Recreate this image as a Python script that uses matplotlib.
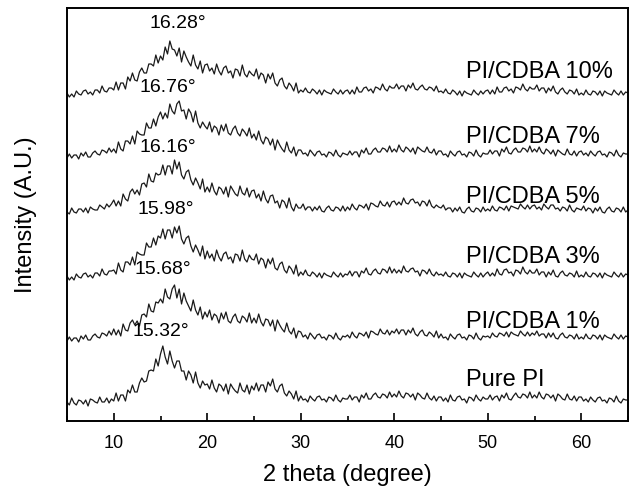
import numpy as np
import matplotlib
matplotlib.use("Agg")
import matplotlib.pyplot as plt
from matplotlib.ticker import MultipleLocator

plt.rcParams["font.family"] = ["Liberation Sans", "DejaVu Sans"]

# intensity above each trace's own baseline,
# one value every 0.25 degree from 5 to 65 (one row = 5 degrees)
i_10 = [2, -2, 1, -2, 4, 1, 0, 4, 5, 1, 3, 0, 5, 5, 2, 9, 4, 3, 7, 7,
        5, 13, 5, 12, 12, 6, 18, 14, 22, 15, 14, 23, 27, 22, 22, 31, 31, 29, 40, 32,
        39, 35, 48, 41, 54, 46, 45, 39, 47, 33, 44, 38, 33, 29, 40, 30, 26, 34, 22, 30,
        31, 24, 27, 21, 31, 24, 20, 27, 29, 22, 24, 17, 26, 25, 19, 30, 21, 18, 24, 21,
        19, 26, 16, 22, 20, 12, 21, 16, 22, 12, 9, 15, 17, 9, 6, 12, 9, 4, 12, 2,
        5, 3, 7, 3, 2, 6, 4, 1, 5, 0, 5, 3, 2, 1, 6, 3, 1, 5, 1, 4,
        5, 1, 5, 1, 8, 3, 3, 7, 8, 4, 6, 2, 8, 7, 5, 11, 6, 4, 9, 7,
        7, 11, 6, 9, 9, 4, 10, 7, 12, 6, 5, 8, 10, 6, 5, 8, 7, 4, 9, 3,
        4, 2, 6, 2, 1, 5, 3, 0, 4, -1, 4, 2, 1, 0, 5, 2, 0, 4, 1, 4,
        5, 1, 5, 1, 8, 3, 3, 7, 8, 4, 6, 2, 8, 7, 5, 11, 6, 4, 8, 6,
        6, 10, 4, 7, 7, 2, 7, 4, 9, 3, 1, 5, 7, 3, 1, 5, 4, 1, 6, 0,
        2, 0, 5, 1, 0, 4, 3, 0, 4, -1, 4, 2, 1, 0, 5, 2, 0, 4, 0, 3,
        2]
i_7 = [-1, 3, -1, 2, 2, -2, 4, 1, 5, 0, 0, 4, 6, 3, 2, 7, 6, 4, 9, 5,
       8, 4, 15, 8, 6, 16, 16, 13, 21, 13, 26, 23, 22, 22, 34, 29, 29, 38, 31, 40,
       45, 38, 44, 39, 53, 46, 43, 53, 56, 46, 47, 38, 48, 44, 35, 46, 34, 29, 35, 31,
       28, 35, 25, 31, 29, 22, 32, 26, 33, 24, 22, 28, 31, 24, 21, 28, 25, 21, 29, 19,
       23, 17, 26, 17, 13, 20, 18, 12, 18, 7, 17, 12, 8, 5, 15, 7, 4, 10, 1, 7,
       7, 3, 4, 1, 7, 4, 1, 5, 6, 2, 3, 0, 5, 4, 1, 7, 2, 0, 4, 3,
       2, 6, 2, 5, 5, 0, 7, 4, 9, 3, 3, 7, 9, 5, 5, 9, 8, 5, 11, 5,
       8, 5, 12, 7, 5, 10, 8, 5, 9, 3, 10, 8, 6, 5, 10, 5, 4, 8, 2, 6,
       6, 2, 3, 0, 6, 3, 1, 5, 6, 2, 3, 0, 5, 4, 1, 7, 2, 0, 4, 3,
       3, 7, 3, 6, 6, 1, 8, 5, 10, 4, 3, 7, 9, 5, 5, 9, 8, 5, 11, 5,
       8, 5, 10, 5, 3, 8, 6, 3, 7, 1, 7, 5, 3, 2, 8, 3, 2, 6, 1, 5,
       6, 2, 4, 1, 6, 3, 1, 5, 6, 2, 3, 0, 5, 4, 1, 7, 2, 0, 4, 3,
       3]
i_5 = [0, -2, 4, 0, -1, 3, 3, 0, 4, -1, 5, 3, 2, 2, 7, 5, 3, 8, 5, 8,
       12, 6, 11, 6, 18, 13, 11, 20, 23, 18, 22, 17, 28, 29, 25, 38, 31, 30, 39, 37,
       38, 47, 37, 46, 46, 38, 52, 43, 50, 37, 33, 40, 42, 32, 27, 34, 29, 23, 33, 20,
       25, 20, 29, 21, 17, 25, 23, 18, 25, 15, 26, 22, 18, 16, 26, 19, 17, 24, 15, 21,
       22, 14, 18, 11, 21, 13, 9, 16, 17, 9, 11, 4, 12, 10, 4, 14, 5, 1, 8, 4,
       4, 8, 2, 5, 5, 1, 5, 2, 6, 1, 0, 4, 6, 2, 1, 5, 4, 1, 6, 1,
       5, 2, 8, 4, 2, 7, 6, 4, 8, 2, 9, 8, 6, 5, 11, 7, 6, 10, 5, 10,
       11, 7, 10, 7, 14, 9, 8, 12, 13, 9, 10, 6, 11, 10, 6, 12, 6, 4, 7, 5,
       4, 7, 2, 4, 4, 0, 4, 1, 5, 0, -1, 3, 5, 1, 0, 4, 3, 0, 5, 1,
       3, 1, 6, 2, 1, 5, 4, 2, 6, 1, 6, 5, 4, 3, 8, 5, 3, 7, 3, 6,
       7, 3, 5, 2, 8, 5, 3, 7, 7, 3, 4, 1, 5, 4, 1, 7, 2, 0, 4, 3,
       2, 6, 1, 4, 3, -1, 4, 1, 5, 0, -1, 3, 5, 1, 0, 4, 3, 0, 5, 0,
       2]
i_3 = [2, -2, 1, -2, 4, 1, 0, 4, 5, 1, 3, 0, 5, 5, 2, 9, 4, 3, 7, 7,
       8, 4, 15, 8, 6, 16, 16, 13, 21, 13, 26, 24, 23, 23, 35, 31, 31, 40, 33, 42,
       40, 49, 39, 48, 48, 40, 51, 45, 52, 39, 34, 40, 42, 32, 26, 33, 28, 22, 32, 19,
       27, 20, 24, 17, 28, 21, 17, 24, 26, 19, 21, 15, 24, 23, 17, 28, 19, 16, 23, 19,
       18, 24, 14, 20, 18, 10, 19, 14, 20, 10, 8, 14, 16, 8, 5, 12, 9, 4, 13, 2,
       6, 3, 8, 3, 2, 6, 4, 1, 5, 0, 5, 3, 2, 1, 6, 3, 1, 5, 1, 4,
       3, 7, 2, 6, 6, 1, 7, 5, 10, 4, 3, 7, 9, 5, 4, 9, 8, 5, 11, 5,
       9, 5, 8, 5, 12, 7, 6, 9, 10, 6, 7, 2, 8, 7, 4, 9, 4, 2, 6, 3,
       4, 2, 6, 2, 1, 5, 4, 1, 5, 0, 5, 3, 2, 1, 6, 3, 1, 5, 1, 4,
       6, 2, 5, 2, 9, 4, 3, 8, 9, 5, 6, 2, 8, 7, 4, 11, 6, 4, 8, 5,
       5, 9, 3, 6, 6, 1, 6, 3, 8, 2, 1, 5, 7, 3, 2, 5, 4, 1, 7, 1,
       3, 1, 6, 2, 1, 5, 4, 1, 5, 0, 5, 3, 2, 1, 6, 3, 1, 5, 1, 4,
       3]
i_1 = [-1, 3, -1, 2, 2, -2, 4, 1, 5, 0, 0, 4, 6, 3, 2, 7, 6, 4, 9, 5,
       11, 5, 10, 4, 16, 10, 9, 17, 20, 15, 19, 14, 25, 26, 23, 36, 29, 28, 38, 37,
       41, 37, 51, 43, 41, 51, 55, 42, 51, 36, 47, 39, 34, 29, 40, 30, 25, 33, 21, 28,
       23, 30, 20, 26, 24, 17, 27, 21, 28, 19, 17, 23, 26, 19, 17, 24, 22, 18, 27, 17,
       22, 17, 26, 18, 14, 21, 20, 14, 20, 9, 20, 15, 11, 8, 17, 9, 6, 12, 2, 9,
       8, 3, 5, 1, 7, 4, 1, 5, 6, 2, 3, 0, 5, 4, 1, 7, 2, 0, 4, 3,
       5, 2, 8, 4, 2, 7, 6, 4, 8, 2, 9, 8, 6, 5, 11, 7, 6, 10, 5, 9,
       7, 11, 6, 10, 10, 5, 10, 7, 12, 6, 4, 8, 10, 5, 4, 8, 6, 3, 9, 2,
       6, 2, 3, 0, 6, 3, 1, 5, 6, 2, 3, 0, 5, 4, 1, 7, 2, 0, 4, 3,
       4, 2, 7, 4, 3, 7, 6, 4, 8, 3, 8, 6, 5, 4, 9, 6, 4, 8, 4, 7,
       5, 9, 4, 6, 6, 2, 7, 3, 7, 2, 1, 5, 7, 3, 2, 5, 4, 1, 6, 1,
       3, 1, 6, 2, 1, 5, 4, 1, 5, 0, 5, 3, 2, 1, 6, 3, 1, 5, 1, 4,
       3]
i_pure = [1, -2, 5, 0, -2, 3, 2, -1, 3, -3, 4, 3, 1, 0, 6, 1, 1, 5, 0, 4,
          2, 10, 2, 8, 8, 2, 13, 10, 18, 11, 11, 20, 25, 21, 22, 32, 33, 32, 44, 37,
          49, 57, 46, 39, 52, 42, 35, 42, 42, 32, 32, 23, 32, 28, 20, 31, 20, 15, 22, 18,
          19, 14, 23, 15, 11, 19, 17, 12, 19, 9, 19, 15, 12, 10, 20, 13, 11, 18, 9, 17,
          13, 20, 12, 18, 18, 11, 21, 17, 24, 14, 11, 17, 19, 10, 7, 12, 9, 4, 12, 2,
          7, 3, 4, 1, 7, 4, 2, 6, 7, 3, 4, 1, 6, 5, 2, 8, 3, 1, 5, 4,
          4, 8, 3, 6, 6, 1, 8, 5, 10, 4, 4, 8, 10, 6, 5, 9, 8, 5, 11, 6,
          9, 6, 12, 7, 5, 10, 9, 6, 9, 3, 10, 8, 5, 4, 10, 5, 3, 7, 2, 6,
          6, 2, 5, 1, 8, 3, 2, 6, 7, 3, 4, 0, 6, 5, 2, 8, 4, 2, 6, 4,
          4, 8, 3, 6, 7, 2, 8, 5, 10, 4, 3, 7, 10, 6, 5, 9, 8, 5, 11, 5,
          8, 5, 11, 6, 4, 9, 8, 5, 8, 2, 9, 7, 4, 3, 9, 4, 3, 7, 2, 6,
          6, 2, 4, 1, 6, 3, 1, 5, 6, 2, 3, 0, 5, 4, 1, 7, 2, 0, 4, 3,
          3]

series = [i_10, i_7, i_5, i_3, i_1, i_pure]
names = ["PI/CDBA 10%", "PI/CDBA 7%", "PI/CDBA 5%",
         "PI/CDBA 3%", "PI/CDBA 1%", "Pure PI"]
offsets = [326, 264, 209, 143, 81, 18]
peak_pos = ["16.28°", "16.76°", "16.16°", "15.98°", "15.68°", "15.32°"]

fig = plt.figure(figsize=(6.31, 4.91), dpi=100)
ax = fig.add_axes([67 / 631, 70 / 491, 561 / 631, 413 / 491])

for y, off in zip(series, offsets):
    x = np.linspace(5, 65, len(y))
    ax.plot(x, np.array(y) + off, color="#1a1a1a", lw=0.9)

label_x = [16.9, 15.8, 15.8, 15.6, 15.3, 15.0]
label_y = [397, 333, 274, 211, 151, 89]
name_y = [349, 284, 224, 164, 99, 41]
for txt, lx, ly in zip(peak_pos, label_x, label_y):
    ax.text(lx, ly, txt, ha="center", va="center", fontsize=14)
for nm, ny in zip(names, name_y):
    ax.text(47.7, ny, nm, ha="left", va="center", fontsize=17)

ax.set_xlim(5, 65)
ax.set_ylim(0, 413)
ax.set_yticks([])
ax.xaxis.set_major_locator(MultipleLocator(10))
ax.xaxis.set_minor_locator(MultipleLocator(5))
ax.tick_params(axis="x", which="major", direction="in", length=6, width=1.2,
               labelsize=13, pad=10)
ax.tick_params(axis="x", which="minor", direction="in", length=3.5, width=1.2)
for sp in ax.spines.values():
    sp.set_linewidth(1.4)

ax.set_xlabel("2 theta (degree)", fontsize=17, va="center")
ax.xaxis.set_label_coords(0.5, -54 / 413)
ax.set_ylabel("Intensity (A.U.)", fontsize=17, va="center")
ax.yaxis.set_label_coords(-41 / 561, 0.5)

fig.savefig("out.png", dpi=100)
